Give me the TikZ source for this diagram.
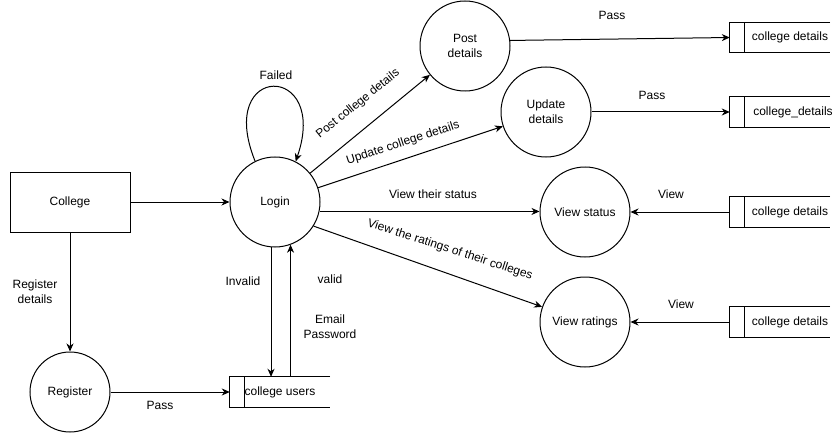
\documentclass[tikz,border=0pt]{standalone}
\usepackage{fontspec}
\setmainfont{Liberation Sans}
\usetikzlibrary{arrows.meta,calc}
\begin{document}
\begin{tikzpicture}[x=1pt,y=-1pt,
  every node/.style={font=\fontsize{12}{15}\selectfont},
  proc/.style={draw,circle,minimum size=90pt,inner sep=0pt,align=center,line width=1pt},
  ent/.style={draw,rectangle,minimum width=120pt,minimum height=60pt,line width=1pt},
  store/.style={rectangle,minimum width=100pt,minimum height=30pt,inner sep=0pt},
  flow/.style={draw,line width=1pt,-{Stealth[length=8pt,width=7pt,inset=2.5pt]}},
  lbl/.style={inner sep=0pt,align=center}]
\useasboundingbox (0,0) rectangle (840,433);

% entities and processes
\node[ent] (college) at (70,202) {College};
\node[proc] (login) at (275,202) {Login};
\node[proc,minimum size=80pt] (register) at (70,392) {Register};
\node[proc] (post) at (465,46) {Post\\details};
\node[proc] (update) at (546,112) {Update\\details};
\node[proc] (status) at (585,212) {View status};
\node[proc] (ratings) at (585,322) {View ratings};

% data stores
\node[store,label={[xshift=0pt]center:college users}] (users) at (280,392) {};
\node[store,label={[xshift=10pt]center:college details}] (pstore) at (780,37.5) {};
\node[store,label={[xshift=13pt]center:college\_details}] (ustore) at (780,112) {};
\node[store,label={[xshift=10pt]center:college details}] (sstore) at (780,212) {};
\node[store,label={[xshift=10pt]center:college details}] (rstore) at (780,322) {};
\foreach \s in {users,pstore,ustore,sstore,rstore}{
  \draw[line width=1pt] (\s.north east) -- (\s.north west) -- (\s.south west) -- (\s.south east);
  \draw[line width=1pt] ($(\s.north west)+(15,0)$) -- ($(\s.south west)+(15,0)$);
}

% flows
\draw[flow] (college) -- (login);
\draw[flow] (college) -- (register);
\draw[flow] (register) -- (users);
\draw[flow] (login.-95) -- (login.-95 |- users.north);
\draw[flow] (users.north -| login.-70.5) -- (login.-70.5);
\draw[flow] (login.116.4) .. controls (215,62) and (330,62) .. (login.63.6);
\draw[flow] (login) -- (post);
\draw[flow] (login) -- (update);
\draw[flow] (login.-12.8) -- (login.-12.8 -| status.west);
\draw[flow] (login.-32) -- (ratings);
\draw[flow] (post.7.7) -- (pstore.west);
\draw[flow] (update) -- (ustore);
\draw[flow] (sstore) -- (status);
\draw[flow] (rstore) -- (ratings);

% labels
\node[lbl] (lfailed) at (276,75) {Failed};
\node[lbl] (lreg) at (35,292) {Register\\details};
\node[lbl] (lpass1) at (160,405) {Pass};
\node[lbl] (linvalid) at (243,281) {Invalid};
\node[lbl] (lvalid) at (330,279) {valid};
\node[lbl] (lemail) at (330,327) {Email\\Password};
\node[lbl,rotate=39] (lpostcd) at (358,104) {Post college details};
\node[lbl,rotate=18] (lupd) at (403,143) {Update college details};
\node[lbl] (lstat) at (433,194) {View their status};
\node[lbl,rotate=-18] (lrat) at (450,250) {View the ratings of their colleges};
\node[lbl] (lpass2) at (612,15) {Pass};
\node[lbl] (lpass3) at (652,95) {Pass};
\node[lbl] (lview1) at (671,194) {View};
\node[lbl] (lview2) at (681,304) {View};
\end{tikzpicture}
\end{document}
